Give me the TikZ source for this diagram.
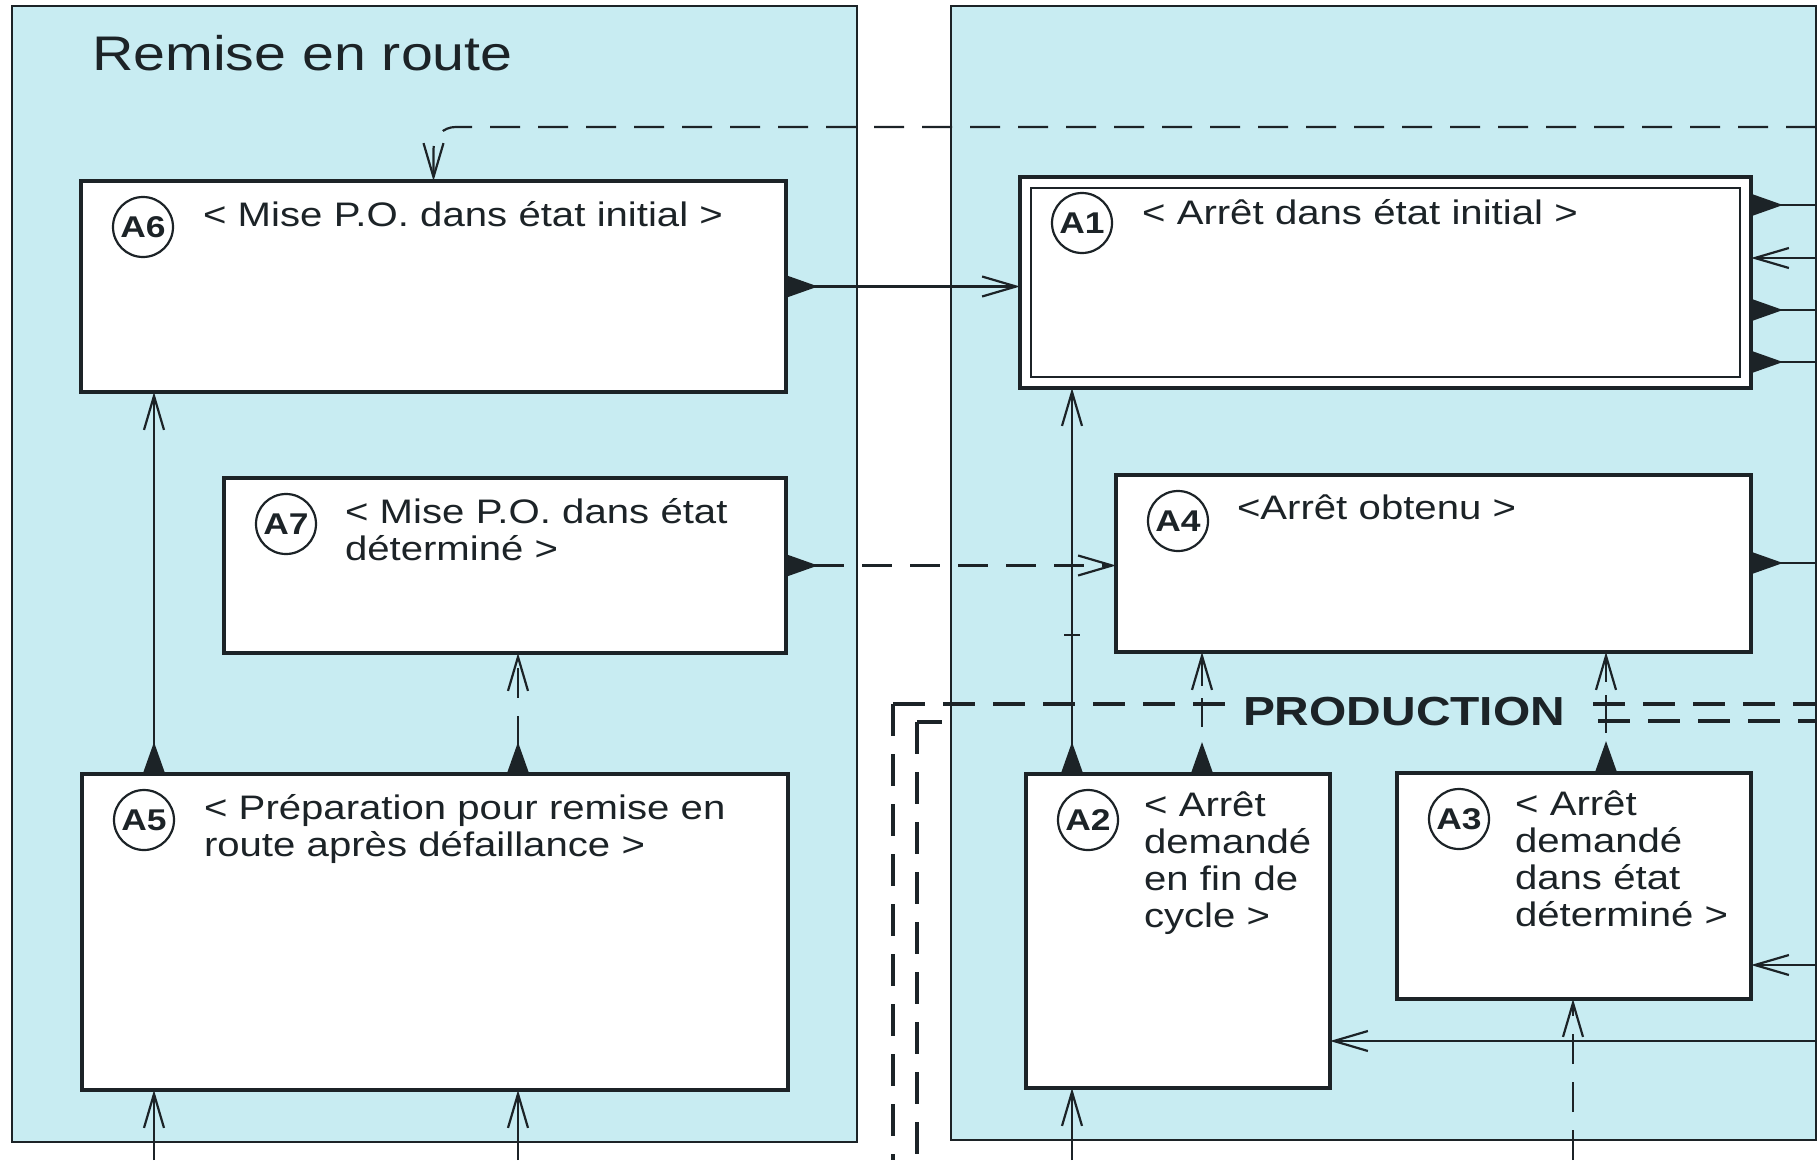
\documentclass[tikz,border=0pt]{standalone}
\usepackage{fontspec}
\setmainfont{Liberation Sans}[FakeStretch=1.18]
\usetikzlibrary{arrows.meta}
\definecolor{gemmaPanel}{HTML}{C8ECF2}
\definecolor{gemmaInk}{HTML}{1C2327}
\tikzset{
  gemma diagram/.style={
    x=1pt, y=-1pt,
    color=gemmaInk, line width=2.2pt,
    >={Straight Barb[length=34pt,width=20pt]},
    every node/.style={inner sep=0pt, outer sep=0pt}
  },
  gemma panel/.style={fill=gemmaPanel, draw=gemmaInk, line width=2pt},
  gemma box/.style={draw=gemmaInk, fill=white, line width=4pt, anchor=north west},
  gemma tag/.style={circle, draw=gemmaInk, fill=white, line width=2.2pt,
    minimum size=60pt, font=\fontsize{30}{30}\selectfont\bfseries},
  gemma text/.style={anchor=base west, align=left, text width=560pt,
    font=\fontsize{34}{37}\selectfont},
  gemma link/.style={{Triangle[reversed,length=32pt,width=22pt]}->},
  gemma out/.style={{Triangle[reversed,length=32pt,width=22pt]}-},
  gemma dashes/.style={dash pattern=on 30pt off 18pt},
  gemma step/.style={line width=4pt, dash pattern=on 32pt off 18pt}
}
\begin{document}
\begin{tikzpicture}[gemma diagram]
  \useasboundingbox (0,0) rectangle (1818,1160);
  % coloured areas
  \draw[gemma panel] (12,6) rectangle (857,1142);
  \draw[gemma panel] (951,6) rectangle (1816,1140);
  \node[anchor=base west, font=\fontsize{48.6}{50}\selectfont] (title) at (92,70) {Remise en route};

  % PRODUCTION outline
  \draw[gemma step] (893,704) -- (1816,704);
  \draw[gemma step] (893,704) -- (893,1160);
  \draw[gemma step] (917,722) -- (942,722);
  \draw[gemma step] (917,722) -- (917,1160);
  \draw[gemma step] (1598,721) -- (1816,721);
  \node[anchor=base west, fill=gemmaPanel, inner xsep=14pt, inner ysep=6pt,
    font=\fontsize{40.6}{42}\selectfont\bfseries] (prod) at (1229,725) {PRODUCTION};

  % steps
  \node[gemma box, minimum width=705pt, minimum height=211pt] (a6) at (81,181) {};
  \node[gemma box, minimum width=562pt, minimum height=175pt] (a7) at (224,478) {};
  \node[gemma box, minimum width=706pt, minimum height=316pt] (a5) at (82,774) {};
  \node[gemma box, minimum width=731pt, minimum height=211pt] (a1) at (1020,177) {};
  \draw[line width=2pt] ([shift={(11pt,-11pt)}]a1.north west) rectangle ([shift={(-11pt,11pt)}]a1.south east);
  \node[gemma box, minimum width=635pt, minimum height=177pt] (a4) at (1116,475) {};
  \node[gemma box, minimum width=304pt, minimum height=314pt] (a2) at (1026,774) {};
  \node[gemma box, minimum width=354pt, minimum height=226pt] (a3) at (1397,773) {};

  \foreach \b/\t in {a1/A1,a2/A2,a3/A3,a4/A4,a5/A5,a6/A6,a7/A7}
    \node[gemma tag] (\b tag) at ([shift={(62pt,-46pt)}]\b.north west) {\t};

  \node[gemma text] (a6text) at ([shift={(122pt,-45pt)}]a6.north west) {< Mise P.O. dans état initial >};
  \node[gemma text] (a7text) at ([shift={(121pt,-45pt)}]a7.north west) {< Mise P.O. dans état\\déterminé >};
  \node[gemma text] (a5text) at ([shift={(122pt,-45pt)}]a5.north west) {< Préparation pour remise en\\route après défaillance >};
  \node[gemma text] (a1text) at ([shift={(122pt,-47pt)}]a1.north west) {< Arrêt dans état initial >};
  \node[gemma text] (a4text) at ([shift={(121pt,-44pt)}]a4.north west) {<Arrêt obtenu >};
  \node[gemma text] (a2text) at ([shift={(118pt,-42pt)}]a2.north west) {< Arrêt\\demandé\\en fin de\\cycle >};
  \node[gemma text] (a3text) at ([shift={(118pt,-42pt)}]a3.north west) {< Arrêt\\demandé\\dans état\\déterminé >};

  % links on the left
  \coordinate (e0) at (1816,127);
  \draw[gemma dashes, ->, rounded corners=22pt] (e0) -| (a6.north);
  \draw[gemma link] (a6.east) -- (a6.east -| a1.west);
  \draw[gemma link, gemma dashes] (a7.east) -- (a7.east -| a4.west);
  \coordinate (s5a) at (154,1160);
  \coordinate (s5b) at (518,1160);
  \draw[->] (s5a) -- (s5a |- a5.south);
  \draw[->] (s5b) -- (s5b |- a5.south);
  \draw[gemma link] (s5a |- a5.north) -- (s5a |- a6.south);
  \draw[gemma link, gemma dashes] (s5b |- a5.north) -- (s5b |- a7.south);

  % links on the right
  \coordinate (s2) at (1072,1160);
  \coordinate (s24) at (1202,1160);
  \coordinate (s34) at (1606,1160);
  \coordinate (s3) at (1573,1160);
  \draw[->] (s2) -- (s2 |- a2.south);
  \draw[gemma link] (s2 |- a2.north) -- (s2 |- a1.south);
  \draw (1064,635) -- (1080,635);
  \draw[gemma link, dash pattern=on 29pt off 12pt on 200pt off 19pt, dash phase=241pt] (s24 |- a2.north) -- (s24 |- a4.south);
  \draw[gemma link, dash pattern=on 38pt off 13pt on 200pt off 12pt, dash phase=251pt] (s34 |- a3.north) -- (s34 |- a4.south);
  \draw[->, gemma dashes] (s3) -- (s3 |- a3.south);

  \coordinate (e1) at (1816,205);
  \coordinate (e2) at (1816,258);
  \coordinate (e3) at (1816,310);
  \coordinate (e4) at (1816,362);
  \coordinate (e5) at (1816,563);
  \coordinate (e6) at (1816,965);
  \coordinate (e7) at (1816,1041);
  \draw[gemma out] (e1 -| a1.east) -- (e1);
  \draw[->] (e2) -- (e2 -| a1.east);
  \draw[gemma out] (e3 -| a1.east) -- (e3);
  \draw[gemma out] (e4 -| a1.east) -- (e4);
  \draw[gemma out] (e5 -| a4.east) -- (e5);
  \draw[->] (e6) -- (e6 -| a3.east);
  \draw[->] (e7) -- (e7 -| a2.east);
\end{tikzpicture}
\end{document}
